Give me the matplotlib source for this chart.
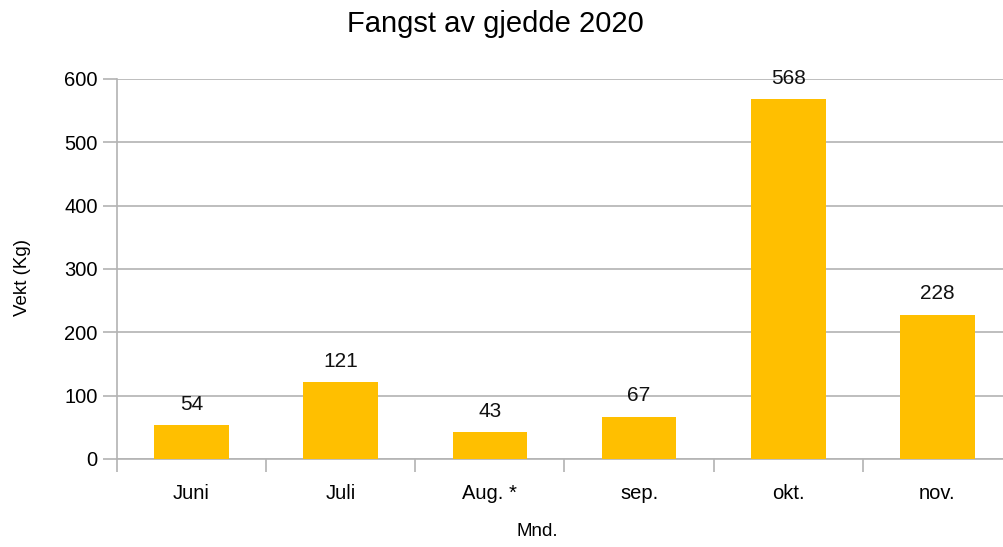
import numpy as np
import matplotlib
matplotlib.use("Agg")
import matplotlib.pyplot as plt

# data
months = ["Juni", "Juli", "Aug. *", "sep.", "okt.", "nov."]
weights = [54, 121, 43, 67, 568, 228]

plt.rcParams['font.family'] = ['Liberation Sans', 'DejaVu Sans']

fig = plt.figure(figsize=(10.04, 5.47), dpi=100)
# plot area runs a little past the right edge, like the reference
ax = fig.add_axes([117 / 1004, 1 - 459 / 547, 895 / 1004, 380 / 547])

x = np.arange(len(months))
bars = ax.bar(x, weights, width=0.5, color="#ffbf00", zorder=3)
for b, v in zip(bars, weights):
    ax.annotate(str(v), (b.get_x() + b.get_width() / 2, v),
                xytext=(0, 8), textcoords="offset points",
                ha="center", va="bottom", fontsize=15, color="#111111")

ax.set_xlim(-0.5, len(months) - 0.5)
ax.set_ylim(0, 600)
ax.set_yticks(range(0, 601, 100))
ax.yaxis.grid(True, color="#b3b3b3", linewidth=1.2, zorder=0)

ax.set_xticks(x)
ax.set_xticklabels(months, fontsize=14.5)
ax.set_xticks(np.arange(-0.5, len(months), 1.0), minor=True)
ax.tick_params(axis="x", which="major", length=0, pad=18)
ax.tick_params(axis="x", which="minor", length=9, width=1.2, color="#b3b3b3")
ax.tick_params(axis="y", length=10, width=1.2, color="#b3b3b3", labelsize=14.5, pad=4)

for s in ["top", "right"]:
    ax.spines[s].set_visible(False)
for s in ["left", "bottom"]:
    ax.spines[s].set_color("#b3b3b3")
    ax.spines[s].set_linewidth(1.2)

fig.text(23 / 1004, 1 - 278 / 547, "Vekt (Kg)", rotation=90, ha="center", va="center", fontsize=13.5)
fig.text(537 / 1004, 1 - 532 / 547, "Mnd.", ha="center", va="center", fontsize=13.5)
fig.text(495 / 1004, 1 - 24 / 547, "Fangst av gjedde 2020", ha="center", va="center", fontsize=21)

fig.savefig("out.png", dpi=100)
